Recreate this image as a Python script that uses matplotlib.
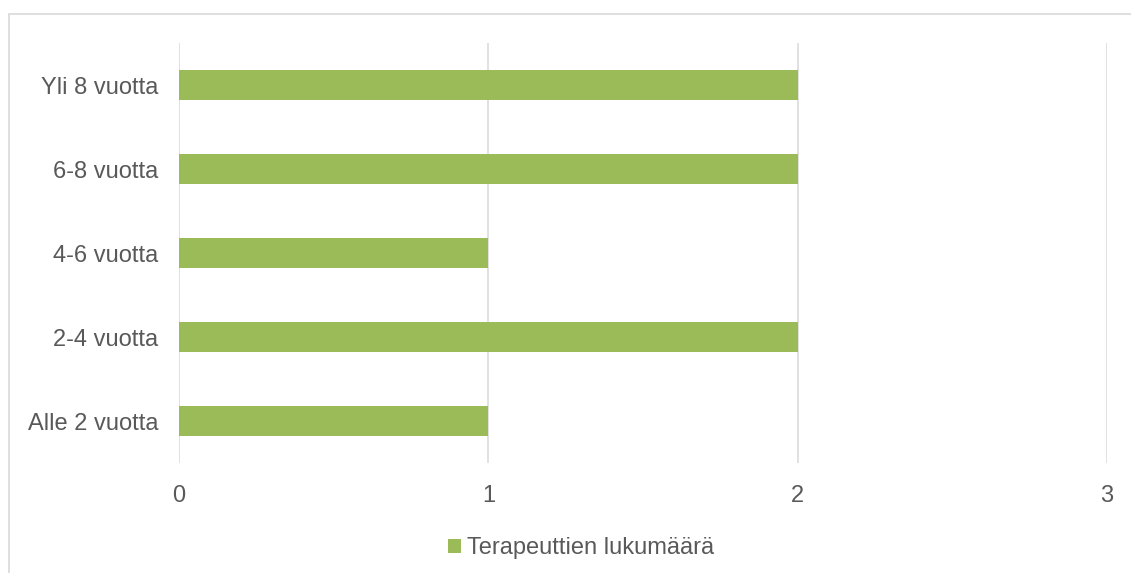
import matplotlib
matplotlib.use("Agg")
import matplotlib.pyplot as plt
from matplotlib.patches import Patch, Rectangle

categories = ["Alle 2 vuotta", "2-4 vuotta", "4-6 vuotta", "6-8 vuotta", "Yli 8 vuotta"]
values = [1, 2, 1, 2, 2]
series_name = "Terapeuttien lukumäärä"
xticks = [0, 1, 2, 3]

plt.rcParams['font.family'] = ['Liberation Sans', 'DejaVu Sans']
W, H = 1131, 573
fig = plt.figure(figsize=(W / 100, H / 100), dpi=100)
fig.patches.append(Rectangle((9 / W, -0.05), 1.05, 1.05 - 14 / H,
                             transform=fig.transFigure, fill=False,
                             edgecolor="#D9D9D9", linewidth=1.2))

ax = fig.add_axes([179 / W, 1 - 463 / H, (1107 - 179) / W, (463 - 43) / H])
color = "#9BBB59"
ax.barh(range(len(categories)), values, height=0.36, color=color, zorder=3)
ax.set_xlim(0, 3)
ax.set_ylim(-0.5, len(categories) - 0.5)
ax.set_xticks(xticks)
ax.set_xticklabels([str(t) for t in xticks])
ax.set_yticks(range(len(categories)))
ax.set_yticklabels(categories)
ax.tick_params(axis='both', length=0, labelsize=17, colors="#595959")
ax.tick_params(axis='y', pad=15)
ax.tick_params(axis='x', pad=15.5)
ax.xaxis.grid(True, color="#D9D9D9", linewidth=1.1, zorder=0)
for s in ax.spines.values():
    s.set_visible(False)

fig.legend(handles=[Patch(facecolor=color, edgecolor='none', label=series_name)],
           loc='center', bbox_to_anchor=(581 / W, 1 - 548 / H), frameon=False,
           fontsize=17, handlelength=0.55, handleheight=0.55, handletextpad=0.25,
           labelcolor="#595959")

fig.savefig("out.png", dpi=100)
